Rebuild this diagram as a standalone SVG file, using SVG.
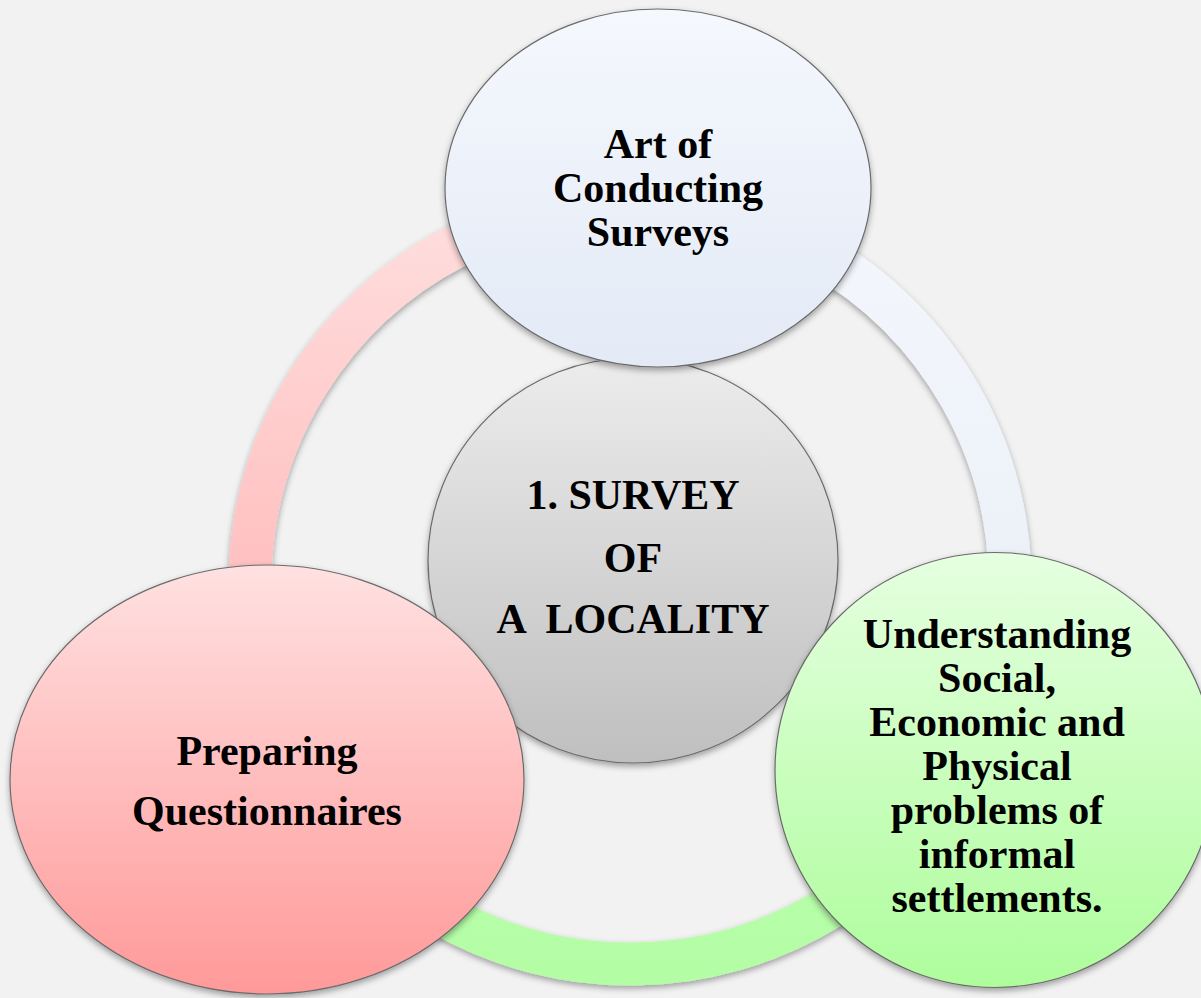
<svg xmlns="http://www.w3.org/2000/svg" width="1201" height="998" viewBox="0 0 1201 998">
  <defs>
    <filter id="shadow" x="-20%" y="-20%" width="140%" height="140%">
      <feDropShadow dx="0" dy="3" stdDeviation="3" flood-color="#000" flood-opacity="0.35"/>
    </filter>
    <linearGradient id="gPinkArc" gradientUnits="userSpaceOnUse" x1="0" y1="204" x2="0" y2="768">
      <stop offset="0" stop-color="#ffdede"/>
      <stop offset="1" stop-color="#ffb0b0"/>
    </linearGradient>
    <linearGradient id="gBlueArc" gradientUnits="userSpaceOnUse" x1="0" y1="204" x2="0" y2="760">
      <stop offset="0" stop-color="#f4f7fc"/>
      <stop offset="1" stop-color="#e8eef7"/>
    </linearGradient>
    <linearGradient id="gGreenArc" gradientUnits="userSpaceOnUse" x1="0" y1="760" x2="0" y2="985">
      <stop offset="0" stop-color="#bcffb0"/>
      <stop offset="1" stop-color="#b3fda4"/>
    </linearGradient>
    <linearGradient id="gTop" x1="0" y1="0" x2="0" y2="1">
      <stop offset="0" stop-color="#f5f8fd"/>
      <stop offset="1" stop-color="#e3eaf6"/>
    </linearGradient>
    <linearGradient id="gCenter" x1="0" y1="0" x2="0" y2="1">
      <stop offset="0" stop-color="#ececec"/>
      <stop offset="1" stop-color="#bfbfbf"/>
    </linearGradient>
    <linearGradient id="gPink" x1="0" y1="0" x2="0" y2="1">
      <stop offset="0" stop-color="#ffe1e1"/>
      <stop offset="1" stop-color="#ff9999"/>
    </linearGradient>
    <linearGradient id="gGreen" x1="0" y1="0" x2="0" y2="1">
      <stop offset="0" stop-color="#e5ffe0"/>
      <stop offset="1" stop-color="#aefd9c"/>
    </linearGradient>
  </defs>
  <style>
    .arc { fill: none; stroke-width: 43; filter: url(#shadow); }
    .node { stroke: #6b6b6b; stroke-width: 1.2; filter: url(#shadow); }
    .lbl { font-family: "Liberation Serif", "Times New Roman", serif; font-weight: bold; font-size: 42px; fill: #000; text-anchor: middle; }
  </style>
  <rect x="0" y="0" width="1201" height="998" fill="#f2f2f2"/>

  <g id="connectors">
    <path class="arc" stroke="url(#gPinkArc)" d="M 297.6 768.2 A 380 380 0 0 1 649.9 204.5"/>
    <path class="arc" stroke="url(#gBlueArc)" d="M 649.9 204.5 A 380 380 0 0 1 967.1 759.5"/>
    <path class="arc" stroke="url(#gGreenArc)" d="M 967.1 759.5 A 380 380 0 0 1 297.6 768.2"/>
  </g>

  <g id="node-center">
    <ellipse class="node" cx="633" cy="560.5" rx="205" ry="202.5" fill="url(#gCenter)"/>
    <text class="lbl" x="633" y="509">1. SURVEY</text>
    <text class="lbl" x="633" y="572">OF</text>
    <text class="lbl" x="633" y="633" xml:space="preserve" style="white-space:pre">A  LOCALITY</text>
  </g>

  <g id="node-top">
    <ellipse class="node" cx="658" cy="188" rx="213" ry="179" fill="url(#gTop)"/>
    <text class="lbl" x="658" y="158">Art of</text>
    <text class="lbl" x="658" y="202">Conducting</text>
    <text class="lbl" x="658" y="246">Surveys</text>
  </g>

  <g id="node-right">
    <ellipse class="node" cx="995" cy="770" rx="220" ry="217.5" fill="url(#gGreen)"/>
    <text class="lbl" x="997" y="648">Understanding</text>
    <text class="lbl" x="997" y="692">Social,</text>
    <text class="lbl" x="997" y="736">Economic and</text>
    <text class="lbl" x="997" y="780">Physical</text>
    <text class="lbl" x="997" y="824">problems of</text>
    <text class="lbl" x="997" y="868">informal</text>
    <text class="lbl" x="997" y="912">settlements.</text>
  </g>

  <g id="node-left">
    <ellipse class="node" cx="267" cy="779.5" rx="257" ry="214.5" fill="url(#gPink)"/>
    <text class="lbl" x="267" y="765">Preparing</text>
    <text class="lbl" x="267" y="825">Questionnaires</text>
  </g>
</svg>
